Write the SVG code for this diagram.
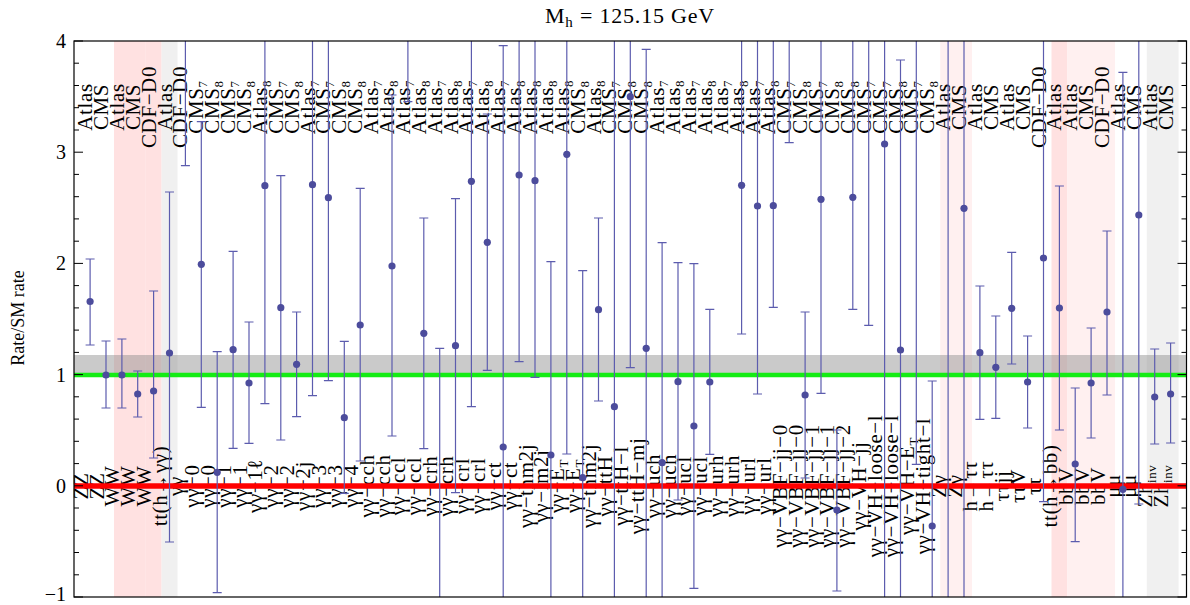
<svg xmlns="http://www.w3.org/2000/svg" width="1190" height="605" viewBox="0 0 1190 605">
<style>
text{font-family:"Liberation Serif","DejaVu Serif",serif;fill:#000}
.lt{font-size:21px;text-anchor:middle;letter-spacing:0.6px}
.lb{font-size:21px;text-anchor:middle;letter-spacing:0.6px}
.sb{font-size:13px}
.tk{font-size:20px;text-anchor:end}
.eb{stroke:#5c5cae;stroke-width:1.2;fill:none}
.pt{fill:#4c4c9c}
.ax{stroke:#000;stroke-width:1.2;fill:none}
.tm{stroke:#000;stroke-width:1;fill:none}
</style>
<defs>
<clipPath id="plot"><rect x="74" y="41" width="1112.5" height="556"/></clipPath>
</defs>
<g id="shading">
<rect x="114" y="41" width="16" height="556" fill="#ffe1e1"/>
<rect x="129.8" y="41" width="16" height="556" fill="#ffe1e1"/>
<rect x="145.7" y="41" width="15.9" height="556" fill="#ffe1e1"/>
<rect x="161.6" y="41" width="15.9" height="556" fill="#f0f0f0"/>
<rect x="940.2" y="41" width="31.8" height="556" fill="#fff0f0"/>
<rect x="1051.5" y="41" width="15.9" height="556" fill="#ffe1e1"/>
<rect x="1067.3" y="41" width="47.7" height="556" fill="#fff0f0"/>
<rect x="1146.8" y="41" width="31.8" height="556" fill="#f0f0f0"/>
</g>
<g id="top-labels" class="lt">
<text transform="translate(92,107) rotate(-90)">Atlas</text>
<text transform="translate(108,107) rotate(-90)">CMS</text>
<text transform="translate(124,107) rotate(-90)">Atlas</text>
<text transform="translate(139.7,107) rotate(-90)">CMS</text>
<text transform="translate(155.6,107) rotate(-90)">CDF−D0</text>
<text transform="translate(171.5,107) rotate(-90)">Atlas</text>
<text transform="translate(187.4,107) rotate(-90)">CDF−D0</text>
<text transform="translate(203.3,107) rotate(-90)">CMS<tspan class="sb" dy="4">7</tspan></text>
<text transform="translate(219.2,107) rotate(-90)">CMS<tspan class="sb" dy="4">8</tspan></text>
<text transform="translate(235.1,107) rotate(-90)">CMS<tspan class="sb" dy="4">7</tspan></text>
<text transform="translate(251,107) rotate(-90)">CMS<tspan class="sb" dy="4">8</tspan></text>
<text transform="translate(266.9,107) rotate(-90)">Atlas<tspan class="sb" dy="4">8</tspan></text>
<text transform="translate(282.8,107) rotate(-90)">CMS<tspan class="sb" dy="4">7</tspan></text>
<text transform="translate(298.6,107) rotate(-90)">CMS<tspan class="sb" dy="4">8</tspan></text>
<text transform="translate(314.5,107) rotate(-90)">Atlas<tspan class="sb" dy="4">7</tspan></text>
<text transform="translate(330.4,107) rotate(-90)">CMS<tspan class="sb" dy="4">7</tspan></text>
<text transform="translate(346.3,107) rotate(-90)">CMS<tspan class="sb" dy="4">8</tspan></text>
<text transform="translate(362.2,107) rotate(-90)">CMS<tspan class="sb" dy="4">8</tspan></text>
<text transform="translate(378.1,107) rotate(-90)">Atlas<tspan class="sb" dy="4">7</tspan></text>
<text transform="translate(394,107) rotate(-90)">Atlas<tspan class="sb" dy="4">8</tspan></text>
<text transform="translate(409.9,107) rotate(-90)">Atlas<tspan class="sb" dy="4">7</tspan></text>
<text transform="translate(425.8,107) rotate(-90)">Atlas<tspan class="sb" dy="4">8</tspan></text>
<text transform="translate(441.7,107) rotate(-90)">Atlas<tspan class="sb" dy="4">7</tspan></text>
<text transform="translate(457.5,107) rotate(-90)">Atlas<tspan class="sb" dy="4">8</tspan></text>
<text transform="translate(473.4,107) rotate(-90)">Atlas<tspan class="sb" dy="4">7</tspan></text>
<text transform="translate(489.3,107) rotate(-90)">Atlas<tspan class="sb" dy="4">8</tspan></text>
<text transform="translate(505.2,107) rotate(-90)">Atlas<tspan class="sb" dy="4">7</tspan></text>
<text transform="translate(521.1,107) rotate(-90)">Atlas<tspan class="sb" dy="4">8</tspan></text>
<text transform="translate(537,107) rotate(-90)">Atlas<tspan class="sb" dy="4">8</tspan></text>
<text transform="translate(552.9,107) rotate(-90)">Atlas<tspan class="sb" dy="4">8</tspan></text>
<text transform="translate(568.8,107) rotate(-90)">Atlas<tspan class="sb" dy="4">8</tspan></text>
<text transform="translate(584.7,107) rotate(-90)">CMS<tspan class="sb" dy="4">8</tspan></text>
<text transform="translate(600.5,107) rotate(-90)">Atlas<tspan class="sb" dy="4">8</tspan></text>
<text transform="translate(616.4,107) rotate(-90)">CMS<tspan class="sb" dy="4">7</tspan></text>
<text transform="translate(632.3,107) rotate(-90)">CMS<tspan class="sb" dy="4">8</tspan></text>
<text transform="translate(648.2,107) rotate(-90)">CMS<tspan class="sb" dy="4">8</tspan></text>
<text transform="translate(664.1,107) rotate(-90)">Atlas<tspan class="sb" dy="4">7</tspan></text>
<text transform="translate(680,107) rotate(-90)">Atlas<tspan class="sb" dy="4">8</tspan></text>
<text transform="translate(695.9,107) rotate(-90)">Atlas<tspan class="sb" dy="4">7</tspan></text>
<text transform="translate(711.8,107) rotate(-90)">Atlas<tspan class="sb" dy="4">8</tspan></text>
<text transform="translate(727.7,107) rotate(-90)">Atlas<tspan class="sb" dy="4">7</tspan></text>
<text transform="translate(743.6,107) rotate(-90)">Atlas<tspan class="sb" dy="4">8</tspan></text>
<text transform="translate(759.5,107) rotate(-90)">Atlas<tspan class="sb" dy="4">7</tspan></text>
<text transform="translate(775.3,107) rotate(-90)">Atlas<tspan class="sb" dy="4">8</tspan></text>
<text transform="translate(791.2,107) rotate(-90)">CMS<tspan class="sb" dy="4">7</tspan></text>
<text transform="translate(807.1,107) rotate(-90)">CMS<tspan class="sb" dy="4">8</tspan></text>
<text transform="translate(823,107) rotate(-90)">CMS<tspan class="sb" dy="4">7</tspan></text>
<text transform="translate(838.9,107) rotate(-90)">CMS<tspan class="sb" dy="4">8</tspan></text>
<text transform="translate(854.8,107) rotate(-90)">CMS<tspan class="sb" dy="4">8</tspan></text>
<text transform="translate(870.7,107) rotate(-90)">CMS<tspan class="sb" dy="4">7</tspan></text>
<text transform="translate(886.6,107) rotate(-90)">CMS<tspan class="sb" dy="4">7</tspan></text>
<text transform="translate(902.5,107) rotate(-90)">CMS<tspan class="sb" dy="4">8</tspan></text>
<text transform="translate(918.3,107) rotate(-90)">CMS<tspan class="sb" dy="4">7</tspan></text>
<text transform="translate(934.2,107) rotate(-90)">CMS<tspan class="sb" dy="4">8</tspan></text>
<text transform="translate(950.1,107) rotate(-90)">Atlas</text>
<text transform="translate(966,107) rotate(-90)">CMS</text>
<text transform="translate(981.9,107) rotate(-90)">Atlas</text>
<text transform="translate(997.8,107) rotate(-90)">CMS</text>
<text transform="translate(1013.7,107) rotate(-90)">Atlas</text>
<text transform="translate(1029.6,107) rotate(-90)">CMS</text>
<text transform="translate(1045.5,107) rotate(-90)">CDF−D0</text>
<text transform="translate(1061.4,107) rotate(-90)">Atlas</text>
<text transform="translate(1077.2,107) rotate(-90)">Atlas</text>
<text transform="translate(1093.1,107) rotate(-90)">CMS</text>
<text transform="translate(1109,107) rotate(-90)">CDF−D0</text>
<text transform="translate(1124.9,107) rotate(-90)">Atlas</text>
<text transform="translate(1140.8,107) rotate(-90)">CMS</text>
<text transform="translate(1156.7,107) rotate(-90)">Atlas</text>
<text transform="translate(1172.6,107) rotate(-90)">CMS</text>
</g>
<g id="bottom-labels" class="lb">
<text transform="translate(87.6,486) rotate(-90)">ZZ</text>
<text transform="translate(103.5,486) rotate(-90)">ZZ</text>
<text transform="translate(119.4,486) rotate(-90)">WW</text>
<text transform="translate(135.2,486) rotate(-90)">WW</text>
<text transform="translate(151.1,486) rotate(-90)">WW</text>
<text transform="translate(167,486) rotate(-90)">tt(h→γγ)</text>
<text transform="translate(182.9,486) rotate(-90)">γγ</text>
<text transform="translate(198.8,486) rotate(-90)">γγ−0</text>
<text transform="translate(214.7,486) rotate(-90)">γγ−0</text>
<text transform="translate(230.6,486) rotate(-90)">γγ−1</text>
<text transform="translate(246.5,486) rotate(-90)">γγ−1</text>
<text transform="translate(262.4,486) rotate(-90)">γγ−1ℓ</text>
<text transform="translate(278.3,486) rotate(-90)">γγ−2</text>
<text transform="translate(294.1,486) rotate(-90)">γγ−2</text>
<text transform="translate(310,486) rotate(-90)">γγ−2j</text>
<text transform="translate(325.9,486) rotate(-90)">γγ−3</text>
<text transform="translate(341.8,486) rotate(-90)">γγ−3</text>
<text transform="translate(357.7,486) rotate(-90)">γγ−4</text>
<text transform="translate(373.6,486) rotate(-90)">γγ−cch</text>
<text transform="translate(389.5,486) rotate(-90)">γγ−cch</text>
<text transform="translate(405.4,486) rotate(-90)">γγ−ccl</text>
<text transform="translate(421.3,486) rotate(-90)">γγ−ccl</text>
<text transform="translate(437.2,486) rotate(-90)">γγ−crh</text>
<text transform="translate(453,486) rotate(-90)">γγ−crh</text>
<text transform="translate(468.9,486) rotate(-90)">γγ−crl</text>
<text transform="translate(484.8,486) rotate(-90)">γγ−crl</text>
<text transform="translate(500.7,486) rotate(-90)">γγ−ct</text>
<text transform="translate(516.6,486) rotate(-90)">γγ−ct</text>
<text transform="translate(532.5,486) rotate(-90)">γγ−thm2j</text>
<text transform="translate(548.4,486) rotate(-90)">γγ−lm2j</text>
<text transform="translate(564.3,486) rotate(-90)">γγ−E<tspan class="sb" dy="4">T</tspan></text>
<text transform="translate(580.2,486) rotate(-90)">γγ−E<tspan class="sb" dy="4">T</tspan></text>
<text transform="translate(596,486) rotate(-90)">γγ−thm2j</text>
<text transform="translate(611.9,486) rotate(-90)">γγ−ttH</text>
<text transform="translate(627.8,486) rotate(-90)">γγ−ttH−l</text>
<text transform="translate(643.7,486) rotate(-90)">γγ−ttH−mj</text>
<text transform="translate(659.6,486) rotate(-90)">γγ−uch</text>
<text transform="translate(675.5,486) rotate(-90)">γγ−uch</text>
<text transform="translate(691.4,486) rotate(-90)">γγ−ucl</text>
<text transform="translate(707.3,486) rotate(-90)">γγ−ucl</text>
<text transform="translate(723.2,486) rotate(-90)">γγ−urh</text>
<text transform="translate(739.1,486) rotate(-90)">γγ−urh</text>
<text transform="translate(755,486) rotate(-90)">γγ−url</text>
<text transform="translate(770.8,486) rotate(-90)">γγ−url</text>
<text transform="translate(786.7,486) rotate(-90)">γγ−VBF−jj−0</text>
<text transform="translate(802.6,486) rotate(-90)">γγ−VBF−jj−0</text>
<text transform="translate(818.5,486) rotate(-90)">γγ−VBF−jj−1</text>
<text transform="translate(834.4,486) rotate(-90)">γγ−VBF−jj−1</text>
<text transform="translate(850.3,486) rotate(-90)">γγ−VBF−jj−2</text>
<text transform="translate(866.2,486) rotate(-90)">γγ−VH−jj</text>
<text transform="translate(882.1,486) rotate(-90)">γγ−VH−loose−l</text>
<text transform="translate(898,486) rotate(-90)">γγ−VH−loose−l</text>
<text transform="translate(913.8,486) rotate(-90)">γγ−VH−E<tspan class="sb" dy="4">T</tspan></text>
<text transform="translate(929.7,486) rotate(-90)">γγ−VH−tight−l</text>
<text transform="translate(945.6,486) rotate(-90)">Zγ</text>
<text transform="translate(961.5,486) rotate(-90)">Zγ</text>
<text transform="translate(977.4,486) rotate(-90)">h→ττ</text>
<text transform="translate(993.3,486) rotate(-90)">h→ττ</text>
<text transform="translate(1009.2,486) rotate(-90)">ττjj</text>
<text transform="translate(1025.1,486) rotate(-90)">ττV</text>
<text transform="translate(1041,486) rotate(-90)">ττ</text>
<text transform="translate(1056.9,486) rotate(-90)">tt(h→bb)</text>
<text transform="translate(1072.7,486) rotate(-90)">bbV</text>
<text transform="translate(1088.6,486) rotate(-90)">bbV</text>
<text transform="translate(1104.5,486) rotate(-90)">bbV</text>
<text transform="translate(1120.4,486) rotate(-90)">μμ</text>
<text transform="translate(1136.3,486) rotate(-90)">μμ</text>
<text transform="translate(1152.2,486) rotate(-90)">Zh<tspan class="sb" dy="4">inv</tspan></text>
<text transform="translate(1168.1,486) rotate(-90)">Zh<tspan class="sb" dy="4">inv</tspan></text>
</g>
<g id="sm-band">
<rect x="74" y="355" width="1112.5" height="20" fill="#8a8a8a" fill-opacity="0.45"/>
<line x1="74" y1="375" x2="1186.5" y2="375" stroke="#14ec14" stroke-width="4.5"/>
<line x1="74" y1="486" x2="1186.5" y2="486" stroke="#ff0000" stroke-width="5.5"/>
</g>
<g id="connectors" class="eb" clip-path="url(#plot)">
<path d="M90.1 259V345M85.6 259h9M85.6 345h9"/>
<path d="M106 341V408M101.5 341h9M101.5 408h9"/>
<path d="M121.9 339V408M117.4 339h9M117.4 408h9"/>
<path d="M137.7 371V417M133.2 371h9M133.2 417h9"/>
<path d="M153.6 291V458M149.1 291h9M149.1 458h9"/>
<path d="M169.5 192V542M165 192h9M165 542h9"/>
<path d="M185.4 40V165.7M180.9 165.7h9"/>
<path d="M201.3 121.7V407.3M196.8 121.7h9M196.8 407.3h9"/>
<path d="M217.2 351.7V592.7M212.7 351.7h9M212.7 592.7h9"/>
<path d="M233.1 251.3V448.3M228.6 251.3h9M228.6 448.3h9"/>
<path d="M249 322V443.3M244.5 322h9M244.5 443.3h9"/>
<path d="M264.9 40V403.7M260.4 403.7h9"/>
<path d="M280.8 175.7V440M276.3 175.7h9M276.3 440h9"/>
<path d="M296.6 312V416.7M292.1 312h9M292.1 416.7h9"/>
<path d="M312.5 40V395.7M308 395.7h9"/>
<path d="M328.4 40V380.7M323.9 380.7h9"/>
<path d="M344.3 341.3V493.3M339.8 341.3h9M339.8 493.3h9"/>
<path d="M360.2 188.3V461M355.7 188.3h9M355.7 461h9"/>
<path d="M392 95V436M387.5 95h9M387.5 436h9"/>
<path d="M407.9 40V101.7M403.4 101.7h9"/>
<path d="M423.8 218V448.7M419.3 218h9M419.3 448.7h9"/>
<path d="M439.7 348.3V598M435.2 348.3h9"/>
<path d="M455.5 198.7V492.7M451 198.7h9M451 492.7h9"/>
<path d="M471.4 40V406.7M466.9 406.7h9"/>
<path d="M487.3 114V370.3M482.8 114h9M482.8 370.3h9"/>
<path d="M503.2 45.7V598M498.7 45.7h9"/>
<path d="M519.1 40V361.7M514.6 361.7h9"/>
<path d="M535 40V377.3M530.5 377.3h9"/>
<path d="M550.9 261.7V598M546.4 261.7h9"/>
<path d="M566.8 40V454M562.3 454h9"/>
<path d="M582.7 270.7V598M578.2 270.7h9"/>
<path d="M598.5 218V401M594 218h9M594 401h9"/>
<path d="M614.4 40V598"/>
<path d="M630.3 40V367.7M625.8 367.7h9"/>
<path d="M646.2 49.3V598M641.7 49.3h9"/>
<path d="M662.1 242.7V598M657.6 242.7h9"/>
<path d="M678 262.7V500M673.5 262.7h9M673.5 500h9"/>
<path d="M693.9 263.7V588.3M689.4 263.7h9M689.4 588.3h9"/>
<path d="M709.8 309.3V454.3M705.3 309.3h9M705.3 454.3h9"/>
<path d="M741.6 40V334M737.1 334h9"/>
<path d="M757.5 40V394M753 394h9"/>
<path d="M773.3 40V307.3M768.8 307.3h9"/>
<path d="M789.2 40V142.7M784.7 142.7h9"/>
<path d="M805.1 312V478M800.6 312h9M800.6 478h9"/>
<path d="M821 40V393.3M816.5 393.3h9"/>
<path d="M836.9 430V591M832.4 430h9M832.4 591h9"/>
<path d="M852.8 40V309.3M848.3 309.3h9"/>
<path d="M868.7 40V325.3M864.2 325.3h9"/>
<path d="M884.6 40V598"/>
<path d="M900.5 60V598M896 60h9"/>
<path d="M916.3 40V464.3M911.8 464.3h9"/>
<path d="M932.2 381V598M927.7 381h9"/>
<path d="M948.1 40V598"/>
<path d="M964 40V598"/>
<path d="M979.9 286V419.3M975.4 286h9M975.4 419.3h9"/>
<path d="M995.8 316V418.3M991.3 316h9M991.3 418.3h9"/>
<path d="M1011.7 252.3V364M1007.2 252.3h9M1007.2 364h9"/>
<path d="M1027.6 336V428M1023.1 336h9M1023.1 428h9"/>
<path d="M1043.5 40V501.7M1039 501.7h9"/>
<path d="M1059.4 186V430M1054.9 186h9M1054.9 430h9"/>
<path d="M1075.2 388V541.7M1070.7 388h9M1070.7 541.7h9"/>
<path d="M1091.1 328V438M1086.6 328h9M1086.6 438h9"/>
<path d="M1107 231V395M1102.5 231h9M1102.5 395h9"/>
<path d="M1122.9 72.3V598M1118.4 72.3h9"/>
<path d="M1138.8 40V504M1134.3 504h9"/>
<path d="M1154.7 349V444M1150.2 349h9M1150.2 444h9"/>
<path d="M1170.6 343V443M1166.1 343h9M1166.1 443h9"/>
</g>
<g id="points" class="pt" clip-path="url(#plot)">
<circle cx="90.1" cy="301.5" r="3.6"/><circle cx="106" cy="375" r="3.6"/><circle cx="121.9" cy="375" r="3.6"/><circle cx="137.7" cy="394" r="3.6"/><circle cx="153.6" cy="391" r="3.6"/><circle cx="169.5" cy="353" r="3.6"/>
<circle cx="201.3" cy="264.3" r="3.6"/><circle cx="217.2" cy="472.3" r="3.6"/><circle cx="233.1" cy="349.7" r="3.6"/><circle cx="249" cy="383" r="3.6"/><circle cx="264.9" cy="185.7" r="3.6"/><circle cx="280.8" cy="307.7" r="3.6"/><circle cx="296.6" cy="364.3" r="3.6"/><circle cx="312.5" cy="184.7" r="3.6"/><circle cx="328.4" cy="197.7" r="3.6"/><circle cx="344.3" cy="417.7" r="3.6"/><circle cx="360.2" cy="325" r="3.6"/>
<circle cx="392" cy="266" r="3.6"/><circle cx="423.8" cy="333.3" r="3.6"/><circle cx="455.5" cy="345.7" r="3.6"/><circle cx="471.4" cy="181.3" r="3.6"/><circle cx="487.3" cy="242.3" r="3.6"/><circle cx="503.2" cy="447" r="3.6"/><circle cx="519.1" cy="175" r="3.6"/><circle cx="535" cy="180.7" r="3.6"/><circle cx="550.9" cy="455" r="3.6"/><circle cx="566.8" cy="154.3" r="3.6"/><circle cx="582.7" cy="477.7" r="3.6"/><circle cx="598.5" cy="309.7" r="3.6"/>
<circle cx="614.4" cy="406.7" r="3.6"/><circle cx="630.3" cy="96.7" r="3.6"/><circle cx="646.2" cy="348.3" r="3.6"/><circle cx="662.1" cy="462.7" r="3.6"/><circle cx="678" cy="381.7" r="3.6"/><circle cx="693.9" cy="426" r="3.6"/><circle cx="709.8" cy="382" r="3.6"/>
<circle cx="741.6" cy="185.3" r="3.6"/><circle cx="757.5" cy="206" r="3.6"/><circle cx="773.3" cy="205.7" r="3.6"/><circle cx="805.1" cy="395" r="3.6"/><circle cx="821" cy="199.3" r="3.6"/><circle cx="836.9" cy="510" r="3.6"/><circle cx="852.8" cy="197.3" r="3.6"/><circle cx="884.6" cy="144" r="3.6"/><circle cx="900.5" cy="350" r="3.6"/><circle cx="932.2" cy="526" r="3.6"/>
<circle cx="964" cy="208.3" r="3.6"/><circle cx="979.9" cy="352.7" r="3.6"/><circle cx="995.8" cy="367.3" r="3.6"/><circle cx="1011.7" cy="308.3" r="3.6"/><circle cx="1027.6" cy="382" r="3.6"/><circle cx="1043.5" cy="258" r="3.6"/><circle cx="1059.4" cy="308" r="3.6"/><circle cx="1075.2" cy="464" r="3.6"/><circle cx="1091.1" cy="383" r="3.6"/><circle cx="1107" cy="312" r="3.6"/><circle cx="1122.9" cy="489.3" r="3.6"/><circle cx="1138.8" cy="215" r="3.6"/><circle cx="1154.7" cy="397" r="3.6"/><circle cx="1170.6" cy="394" r="3.6"/>
</g>
<g id="axes">
<rect class="ax" x="74" y="41" width="1112.5" height="556"/>
<path class="tm" d="M74 41h9M74 152.2h9M74 263.4h9M74 374.6h9M74 485.8h9M74 597h9M1186.5 41h-9M1186.5 152.2h-9M1186.5 263.4h-9M1186.5 374.6h-9M1186.5 485.8h-9M1186.5 597h-9"/>
<path class="tm" d="M74 63.2h5M74 85.5h5M74 107.7h5M74 130h5M74 174.4h5M74 196.7h5M74 218.9h5M74 241.2h5M74 285.6h5M74 307.9h5M74 330.1h5M74 352.4h5M74 396.8h5M74 419.1h5M74 441.3h5M74 463.6h5M74 508h5M74 530.3h5M74 552.5h5M74 574.8h5M1186.5 63.2h-5M1186.5 85.5h-5M1186.5 107.7h-5M1186.5 130h-5M1186.5 174.4h-5M1186.5 196.7h-5M1186.5 218.9h-5M1186.5 241.2h-5M1186.5 285.6h-5M1186.5 307.9h-5M1186.5 330.1h-5M1186.5 352.4h-5M1186.5 396.8h-5M1186.5 419.1h-5M1186.5 441.3h-5M1186.5 463.6h-5M1186.5 508h-5M1186.5 530.3h-5M1186.5 552.5h-5M1186.5 574.8h-5"/>
<text class="tk" x="66" y="48">4</text>
<text class="tk" x="66" y="159">3</text>
<text class="tk" x="66" y="270">2</text>
<text class="tk" x="66" y="382">1</text>
<text class="tk" x="66" y="493">0</text>
<text class="tk" x="66" y="601">−1</text>
<text transform="translate(24,318) rotate(-90)" text-anchor="middle" font-size="18">Rate/SM rate</text>
<text x="630" y="23" text-anchor="middle" font-size="22" letter-spacing="0.8">M<tspan font-size="15" dy="4">h</tspan><tspan dy="-4"> = 125.15 GeV</tspan></text>
</g>
</svg>
